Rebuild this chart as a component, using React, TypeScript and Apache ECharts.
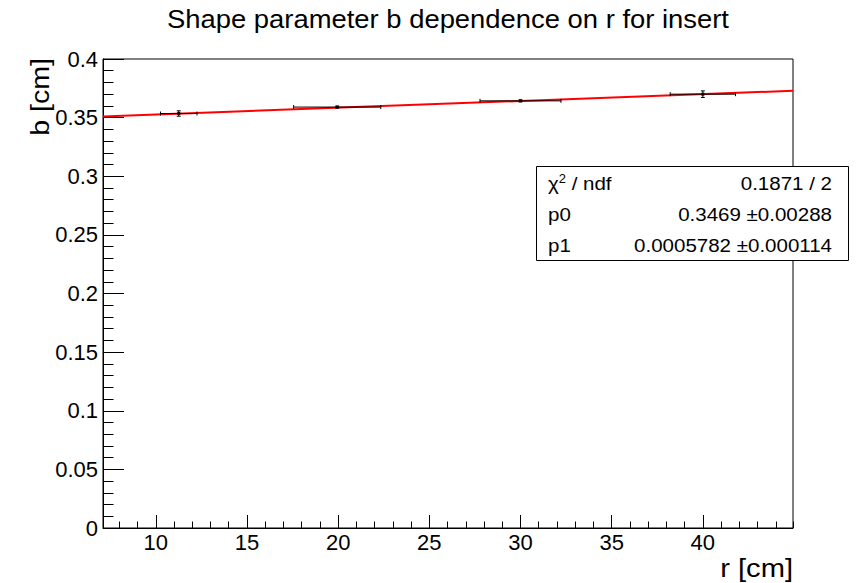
import React, { useEffect, useRef } from "react";
import * as echarts from "echarts";

// Measured points: radius r [cm] with its bin half-width, shape parameter b [cm] with its error
const radius = [11.26, 19.95, 30.0, 40.0];
const radiusErr = [1.0, 2.39, 2.22, 1.79];
const shapeB = [0.3535, 0.359, 0.3643, 0.37];
const shapeBErr = [0.0023, 0.0008, 0.0008, 0.0028];

// Linear fit b = p0 + p1 * r
const fitP0 = 0.3469;
const fitP1 = 0.0005782;

// Fit statistics box rows
const statLabels = ["χ{sup|2} / ndf", "p0", "p1"];
const statValues = ["0.1871 / 2", "0.3469 ±0.00288", "0.0005782 ±0.000114"];

const titleText = "Shape parameter b dependence on r for insert";
const xTitle = "r [cm]";
const yTitle = "b [cm]";

const FONT = "'Liberation Sans', Arial, Helvetica, sans-serif";

export default function App() {
  const ref = useRef<HTMLDivElement>(null);

  useEffect(() => {
    if (!ref.current) return;
    const chart = echarts.init(ref.current, undefined, { renderer: "svg" });

    // x range: data extent (including errors) padded by 10% on both sides
    const lo = Math.min(...radius.map((r, i) => r - radiusErr[i]));
    const hi = Math.max(...radius.map((r, i) => r + radiusErr[i]));
    const pad = 0.1 * (hi - lo);
    const xMin = lo - pad;
    const xMax = hi + pad;

    const points = radius.map((r, i) => [r, shapeB[i], radiusErr[i], shapeBErr[i]]);
    const fitLine = [xMin, xMax].map((x) => [x, fitP0 + fitP1 * x]);

    const rowY = [183, 214.5, 245.5];

    const option: any = {
      animation: false,
      backgroundColor: "#fff",
      textStyle: { fontFamily: FONT },
      grid: {
        left: 103,
        top: 59,
        right: 71,
        bottom: 55,
        show: true,
        borderColor: "#000",
        borderWidth: 1,
        backgroundColor: "transparent",
        outerBoundsMode: "none",
      },
      xAxis: [
        {
          type: "value",
          min: xMin,
          max: xMax,
          minInterval: 5,
          maxInterval: 5,
          position: "bottom",
          axisLine: { show: true, onZero: false, lineStyle: { color: "#000", width: 1 } },
          axisTick: { show: true, inside: true, length: 13, lineStyle: { color: "#000" } },
          axisLabel: {
            show: true,
            showMinLabel: false,
            showMaxLabel: false,
            margin: 3,
            fontSize: 22,
            color: "#000",
            fontFamily: FONT,
          },
          splitLine: { show: false },
        },
        {
          type: "value",
          min: xMin,
          max: xMax,
          minInterval: 1,
          maxInterval: 1,
          position: "bottom",
          axisLine: { show: false },
          axisTick: { show: true, inside: true, length: 6.5, lineStyle: { color: "#000" } },
          axisLabel: { show: false },
          splitLine: { show: false },
        },
      ],
      yAxis: {
        type: "value",
        min: 0,
        max: 0.4,
        interval: 0.05,
        axisLine: { show: true, onZero: false, lineStyle: { color: "#000", width: 1 } },
        axisTick: { show: true, inside: true, length: 21, lineStyle: { color: "#000" } },
        minorTick: { show: true, splitNumber: 5, length: 10.5, lineStyle: { color: "#000" } },
        axisLabel: {
          margin: 5,
          fontSize: 22,
          color: "#000",
          fontFamily: FONT,
          formatter: (v: number) => String(parseFloat(v.toFixed(3))),
        },
        splitLine: { show: false },
      },
      series: [
        {
          type: "line",
          data: fitLine,
          showSymbol: false,
          symbol: "none",
          lineStyle: { color: "#ff0000", width: 2 },
          z: 2,
        },
        {
          type: "custom",
          data: points,
          z: 3,
          renderItem: (_params: any, api: any) => {
            const x = api.value(0);
            const y = api.value(1);
            const ex = api.value(2);
            const ey = api.value(3);
            const c = api.coord([x, y]);
            const l = api.coord([x - ex, y]);
            const r = api.coord([x + ex, y]);
            const t = api.coord([x, y + ey]);
            const b = api.coord([x, y - ey]);
            const style = { stroke: "#000", lineWidth: 1 };
            const cap = 2;
            return {
              type: "group",
              children: [
                { type: "line", shape: { x1: l[0], y1: c[1], x2: r[0], y2: c[1] }, style },
                { type: "line", shape: { x1: l[0], y1: c[1] - cap, x2: l[0], y2: c[1] + cap }, style },
                { type: "line", shape: { x1: r[0], y1: c[1] - cap, x2: r[0], y2: c[1] + cap }, style },
                { type: "line", shape: { x1: c[0], y1: t[1], x2: c[0], y2: b[1] }, style },
                { type: "line", shape: { x1: c[0] - cap, y1: t[1], x2: c[0] + cap, y2: t[1] }, style },
                { type: "line", shape: { x1: c[0] - cap, y1: b[1], x2: c[0] + cap, y2: b[1] }, style },
                {
                  type: "rect",
                  shape: { x: c[0] - 1.5, y: c[1] - 1.5, width: 3, height: 3 },
                  style: { fill: "#000" },
                },
              ],
            };
          },
        },
      ],
      graphic: [
        {
          type: "text",
          x: 448,
          y: 19,
          scaleX: 1.096,
          style: {
            text: titleText,
            fontSize: 25,
            fontFamily: FONT,
            fill: "#000",
            align: "center",
            verticalAlign: "middle",
          },
        },
        {
          type: "text",
          x: 793,
          y: 568,
          scaleX: 1.12,
          style: {
            text: xTitle,
            fontSize: 26,
            fontFamily: FONT,
            fill: "#000",
            align: "right",
            verticalAlign: "middle",
          },
        },
        {
          type: "text",
          x: 40,
          y: 58,
          rotation: Math.PI / 2,
          scaleX: 1.1,
          style: {
            text: yTitle,
            fontSize: 26,
            fontFamily: FONT,
            fill: "#000",
            align: "right",
            verticalAlign: "middle",
          },
        },
        {
          type: "rect",
          z: 10,
          shape: { x: 536.5, y: 166.5, width: 312, height: 94 },
          style: { fill: "#fff", stroke: "#000", lineWidth: 1 },
        },
        ...statLabels.map((s, i) => ({
          type: "text",
          z: 11,
          x: 548,
          y: rowY[i],
          scaleX: 1.08,
          style: {
            text: s,
            fontSize: 19,
            fontFamily: FONT,
            fill: "#000",
            align: "left",
            verticalAlign: "middle",
            rich: {
              sup: { fontSize: 12, fontFamily: FONT, fill: "#000", verticalAlign: "top", padding: [0, 0, 8, 0] },
            },
          },
        })),
        ...statValues.map((s, i) => ({
          type: "text",
          z: 11,
          x: 832,
          y: rowY[i],
          scaleX: 1.08,
          style: {
            text: s,
            fontSize: 19,
            fontFamily: FONT,
            fill: "#000",
            align: "right",
            verticalAlign: "middle",
          },
        })),
      ],
    };

    chart.setOption(option);
    return () => chart.dispose();
  }, []);

  return (
    <div
      ref={ref}
      style={{ position: "fixed", left: 0, top: 0, width: 864, height: 583, background: "#fff" }}
    />
  );
}
